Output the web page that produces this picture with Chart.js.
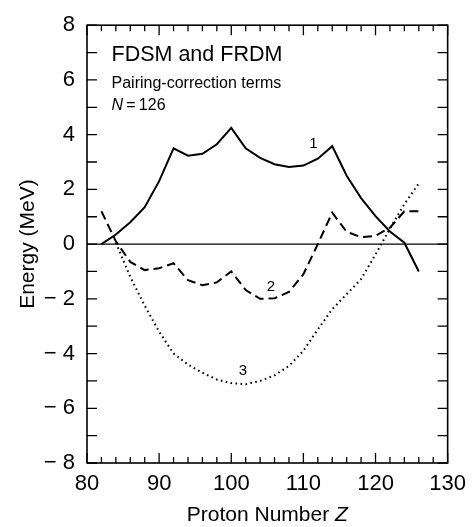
<!DOCTYPE html>
<html>
<head>
<meta charset="utf-8">
<script src="https://cdn.jsdelivr.net/npm/chart.js@4/dist/chart.umd.min.js"></script>
<style>
  body { margin: 0; background: #fff; }
  canvas { display: block; }
</style>
</head>
<body>
<canvas id="canvas" width="474" height="527"></canvas>
<script>
// proton numbers for each curve
const zSolid = [82, 84, 86, 88, 90, 92, 94, 96, 98, 100, 102, 104, 106, 108, 110, 112, 114, 116, 118, 120, 122, 124, 126]
const zDashed = [82, 84, 86, 88, 90, 92, 94, 96, 98, 100, 102, 104, 106, 108, 110, 112, 114, 116, 118, 120, 122, 124, 126]
const zDotted = [84, 86, 88, 90, 92, 94, 96, 98, 100, 102, 104, 106, 108, 110, 112, 114, 116, 118, 120, 122, 124, 126]

// energies (MeV)
const eCurve1 = [0, 0.35, 0.8, 1.35, 2.3, 3.5, 3.23, 3.3, 3.65, 4.25, 3.5, 3.15, 2.92, 2.82, 2.87, 3.12, 3.58, 2.5, 1.68, 1.02, 0.46, 0.05, -1.0]
const eCurve2 = [1.2, 0.1, -0.65, -0.95, -0.88, -0.7, -1.32, -1.5, -1.4, -1.0, -1.68, -2.0, -1.98, -1.75, -1.1, 0.0, 1.15, 0.45, 0.25, 0.3, 0.6, 1.2, 1.2]
const eCurve3 = [0.05, -1.2, -2.25, -3.2, -4.0, -4.4, -4.7, -4.95, -5.08, -5.12, -5.0, -4.8, -4.45, -3.9, -3.12, -2.38, -1.83, -1.28, -0.38, 0.57, 1.46, 2.22]

// curve labels: text, Z, E
const curveLabels = [["1", 111.4, 3.65], ["2", 105.5, -1.55], ["3", 101.6, -4.65]]

const xTicks = [80, 90, 100, 110, 120, 130]
const yTicks = [-8, -6, -4, -2, 0, 2, 4, 6, 8]

const FONT = "'Liberation Sans', Arial, Helvetica, sans-serif"

const toPoints = (xs, ys) => xs.map((x, i) => ({ x: x, y: ys[i] }))

// frame, inward ticks, zero line and text
const framePlugin = {
    id: "frame",
    beforeDatasetsDraw(chart) {
        const ctx = chart.ctx
        const a = chart.chartArea
        const y0 = chart.scales.y.getPixelForValue(0)
        ctx.save()
        ctx.strokeStyle = "#000"
        ctx.lineWidth = 1.3
        ctx.beginPath()
        ctx.moveTo(a.left, y0)
        ctx.lineTo(a.right, y0)
        ctx.stroke()
        ctx.restore()
    },
    afterDraw(chart) {
        const ctx = chart.ctx
        const a = chart.chartArea
        const xs = chart.scales.x
        const ys = chart.scales.y
        ctx.save()
        ctx.strokeStyle = "#000"
        ctx.lineWidth = 1.6
        ctx.strokeRect(a.left, a.top, a.right - a.left, a.bottom - a.top)

        ctx.lineWidth = 1.3
        ctx.beginPath()
        for (let v = xTicks[0]; v <= xTicks[xTicks.length - 1]; v += 2) {
            const px = xs.getPixelForValue(v)
            const len = v % 10 === 0 ? 10 : 6
            ctx.moveTo(px, a.bottom)
            ctx.lineTo(px, a.bottom - len)
            ctx.moveTo(px, a.top)
            ctx.lineTo(px, a.top + len)
        }
        for (let v = yTicks[0]; v <= yTicks[yTicks.length - 1]; v += 1) {
            const py = ys.getPixelForValue(v)
            ctx.moveTo(a.left, py)
            ctx.lineTo(a.left + 10, py)
            ctx.moveTo(a.right, py)
            ctx.lineTo(a.right - 10, py)
        }
        ctx.stroke()

        // curve numbers
        ctx.fillStyle = "#000"
        ctx.textAlign = "center"
        ctx.textBaseline = "middle"
        ctx.font = "15px " + FONT
        curveLabels.forEach(l => {
            ctx.fillText(l[0], xs.getPixelForValue(l[1]), ys.getPixelForValue(l[2]))
        })

        // text block
        const tx = xs.getPixelForValue(83.4)
        ctx.textAlign = "left"
        ctx.textBaseline = "alphabetic"
        ctx.font = "21.5px " + FONT
        ctx.fillText("FDSM and FRDM", tx, ys.getPixelForValue(6.7))
        ctx.font = "16px " + FONT
        ctx.fillText("Pairing-correction terms", tx, ys.getPixelForValue(5.7))
        const ny = ys.getPixelForValue(4.9)
        ctx.font = "italic 16px " + FONT
        ctx.fillText("N", tx, ny)
        const nw = ctx.measureText("N").width
        ctx.font = "16px " + FONT
        ctx.fillText("\u2009=\u2009126", tx + nw, ny)

        // x axis title with italic Z
        const part1 = "Proton Number "
        ctx.font = "21px " + FONT
        const w1 = ctx.measureText(part1).width
        ctx.font = "italic 21px " + FONT
        const w2 = ctx.measureText("Z").width
        const cx = (a.left + a.right) / 2
        const by = 521
        let sx = cx - (w1 + w2) / 2
        ctx.font = "21px " + FONT
        ctx.fillText(part1, sx, by)
        ctx.font = "italic 21px " + FONT
        ctx.fillText("Z", sx + w1, by)
        ctx.restore()
    }
}

const target = document.querySelector("#canvas")
const myChart = new Chart(target, {
    type: "line",
    data: {
        datasets: [
            {
                label: "1",
                data: toPoints(zSolid, eCurve1),
                borderColor: "#000",
                borderWidth: 2,
                pointRadius: 0,
                tension: 0,
                fill: false
            },
            {
                label: "2",
                data: toPoints(zDashed, eCurve2),
                borderColor: "#000",
                borderWidth: 2,
                borderDash: [9, 5],
                pointRadius: 0,
                tension: 0,
                fill: false
            },
            {
                label: "3",
                data: toPoints(zDotted, eCurve3),
                borderColor: "#000",
                borderWidth: 2,
                borderDash: [1.6, 3.4],
                pointRadius: 0,
                tension: 0,
                fill: false
            }
        ]
    },
    options: {
        responsive: false,
        animation: false,
        layout: { padding: { top: 11, right: 25, left: 0, bottom: 0 } },
        plugins: {
            legend: { display: false },
            tooltip: { enabled: false }
        },
        scales: {
            x: {
                type: "linear",
                min: 80,
                max: 130,
                afterFit: scale => { scale.height = 64 },
                afterBuildTicks: scale => { scale.ticks = xTicks.map(v => ({ value: v })) },
                grid: { display: false, drawTicks: false },
                border: { display: false },
                ticks: {
                    color: "#000",
                    padding: 8,
                    maxRotation: 0,
                    font: { family: FONT, size: 22 }
                }
            },
            y: {
                type: "linear",
                min: -8,
                max: 8,
                afterFit: scale => { scale.width = 87 },
                afterBuildTicks: scale => { scale.ticks = yTicks.map(v => ({ value: v })) },
                grid: { display: false, drawTicks: false },
                border: { display: false },
                ticks: {
                    color: "#000",
                    padding: 12,
                    font: { family: FONT, size: 22 },
                    callback: v => v < 0 ? "\u2212 " + (-v) : String(v)
                },
                title: {
                    display: true,
                    text: "Energy (MeV)",
                    color: "#000",
                    padding: { top: 16, bottom: 0 },
                    font: { family: FONT, size: 21 }
                }
            }
        }
    },
    plugins: [framePlugin]
});
</script>
</body>
</html>
